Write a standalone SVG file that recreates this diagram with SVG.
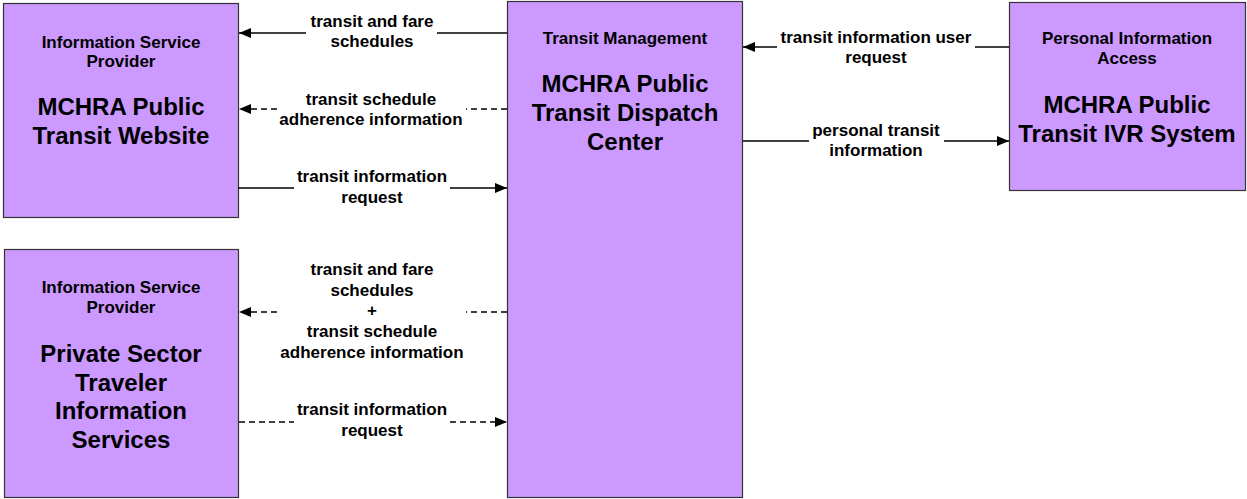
<svg xmlns="http://www.w3.org/2000/svg" width="1247" height="499" viewBox="0 0 1247 499">
<style>
.box{fill:#CC99FF;stroke:#333333;stroke-width:1.2}
text{font-family:"Liberation Sans",Arial,sans-serif;font-weight:bold;fill:#000;text-anchor:middle}
.hd{font-size:17px}
.tt{font-size:24px}
.lb{font-size:17px}
.ln{stroke:#000;stroke-width:1.5;fill:none}
.ds{stroke-dasharray:6,4}
</style>
<defs>
<marker id="ah" markerWidth="13" markerHeight="10" refX="12" refY="5" orient="auto" markerUnits="userSpaceOnUse">
<path d="M0,0 L12,5 L0,10 Z" fill="#000"/>
</marker>
</defs>
<rect width="1247" height="499" fill="#fff"/>
<g id="isp-website">
<rect class="box" x="3.5" y="3.5" width="235" height="214"/>
<text class="hd" x="121" y="48">Information Service</text>
<text class="hd" x="121" y="67">Provider</text>
<text class="tt" x="121" y="115">MCHRA Public</text>
<text class="tt" x="121" y="144">Transit Website</text>
</g>
<g id="isp-private">
<rect class="box" x="4.5" y="249.5" width="234" height="248"/>
<text class="hd" x="121" y="293">Information Service</text>
<text class="hd" x="121" y="313">Provider</text>
<text class="tt" x="121" y="362">Private Sector</text>
<text class="tt" x="121" y="391">Traveler</text>
<text class="tt" x="121" y="419">Information</text>
<text class="tt" x="121" y="448">Services</text>
</g>
<g id="transit-mgmt">
<rect class="box" x="507.5" y="1.5" width="235" height="496"/>
<text class="hd" x="625" y="44">Transit Management</text>
<text class="tt" x="625" y="92">MCHRA Public</text>
<text class="tt" x="625" y="121">Transit Dispatch</text>
<text class="tt" x="625" y="150">Center</text>
</g>
<g id="pia-ivr">
<rect class="box" x="1009.5" y="2.5" width="236" height="188"/>
<text class="hd" x="1127" y="44">Personal Information</text>
<text class="hd" x="1127" y="64">Access</text>
<text class="tt" x="1127" y="113">MCHRA Public</text>
<text class="tt" x="1127" y="142">Transit IVR System</text>
</g>
<g id="connectors">
<line class="ln" x1="507" y1="33" x2="437" y2="33"/>
<line class="ln" x1="306" y1="33" x2="239" y2="33" marker-end="url(#ah)"/>
<text class="lb" x="372" y="27">transit and fare</text>
<text class="lb" x="372" y="47">schedules</text>
<line class="ln ds" x1="507" y1="109" x2="466" y2="109"/>
<line class="ln ds" x1="277" y1="109" x2="239" y2="109" marker-end="url(#ah)"/>
<text class="lb" x="371" y="105">transit schedule</text>
<text class="lb" x="371" y="125">adherence information</text>
<line class="ln" x1="238" y1="188" x2="294" y2="188"/>
<line class="ln" x1="450" y1="188" x2="507" y2="188" marker-end="url(#ah)"/>
<text class="lb" x="372" y="182">transit information</text>
<text class="lb" x="372" y="203">request</text>
<line class="ln ds" x1="507" y1="312" x2="466" y2="312"/>
<line class="ln ds" x1="277" y1="312" x2="239" y2="312" marker-end="url(#ah)"/>
<text class="lb" x="372" y="275">transit and fare</text>
<text class="lb" x="372" y="296">schedules</text>
<text class="lb" x="372" y="316">+</text>
<text class="lb" x="372" y="337">transit schedule</text>
<text class="lb" x="372" y="358">adherence information</text>
<line class="ln ds" x1="239" y1="422" x2="294" y2="422"/>
<line class="ln ds" x1="450" y1="422" x2="507" y2="422" marker-end="url(#ah)"/>
<text class="lb" x="372" y="415">transit information</text>
<text class="lb" x="372" y="436">request</text>
<line class="ln" x1="1009" y1="47" x2="975" y2="47"/>
<line class="ln" x1="777" y1="47" x2="743" y2="47" marker-end="url(#ah)"/>
<text class="lb" x="876" y="43">transit information user</text>
<text class="lb" x="876" y="63">request</text>
<line class="ln" x1="743" y1="141" x2="809" y2="141"/>
<line class="ln" x1="944" y1="141" x2="1009" y2="141" marker-end="url(#ah)"/>
<text class="lb" x="876" y="136">personal transit</text>
<text class="lb" x="876" y="156">information</text>
</g>
</svg>
